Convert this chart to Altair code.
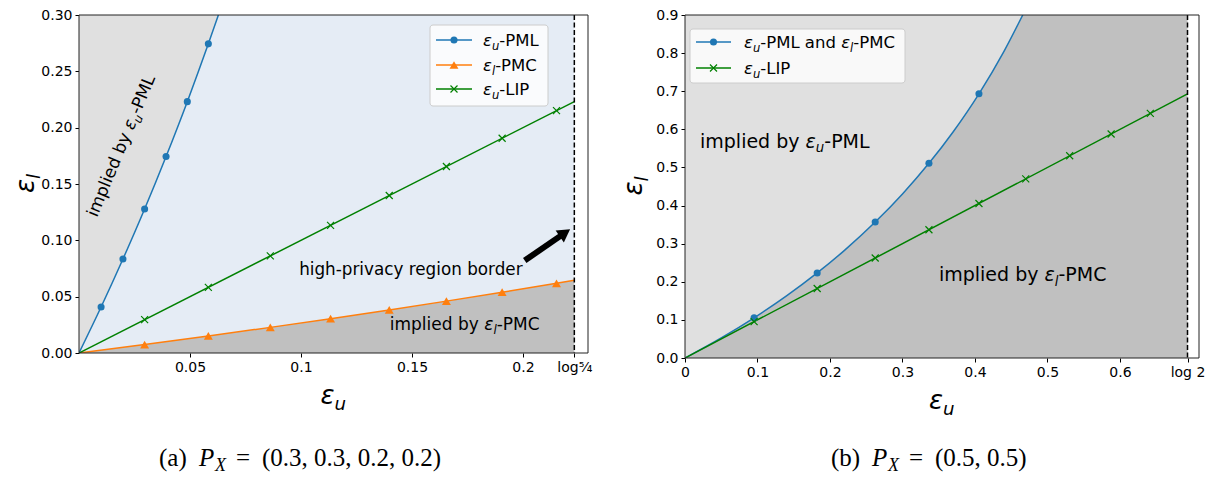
import altair as alt
import pandas as pd

LOG54 = 0.22314
LOG2 = 0.69315
XMAX_A, YMAX_A = 0.2293, 0.30
XMAX_B, YMAX_B = 0.7090, 0.90
W_A, H_A = 509, 338
W_B, H_B = 514, 343

BLUE, ORANGE, GREEN = "#1f77b4", "#ff7f0e", "#008000"
LIGHTGRAY, GRAY, LIGHTBLUE = "#e0e0e0", "#c0c0c0", "#e5ecf5"
FONT = "DejaVu Sans"
SERIF = "Liberation Serif"

# ---------------- data: panel (a) ----------------
SERIES_A = ["εu-PML", "εl-PMC", "εu-LIP"]
a_pml_x = [0.0, 0.00995, 0.01980, 0.02956, 0.03922, 0.04879, 0.05827, 0.06280]
a_pml_y = [0.0, 0.0408, 0.0834, 0.1278, 0.1744, 0.2231, 0.2744, 0.3000]
a_pml_mx = [0.00995, 0.01980, 0.02956, 0.03922, 0.04879, 0.05827]
a_pml_my = [0.0408, 0.0834, 0.1278, 0.1744, 0.2231, 0.2744]

a_pmc_x = [0.0, 0.02956, 0.05827, 0.08618, 0.11333, 0.13976, 0.16551, 0.19062, 0.21511, 0.22314]
a_pmc_y = [0.0, 0.00753, 0.01511, 0.02275, 0.03046, 0.03822, 0.04604, 0.05393, 0.06188, 0.06454]
a_pmc_mx = [0.02956, 0.05827, 0.08618, 0.11333, 0.13976, 0.16551, 0.19062, 0.21511]
a_pmc_my = [0.00753, 0.01511, 0.02275, 0.03046, 0.03822, 0.04604, 0.05393, 0.06188]

a_lip_x = [0.0, 0.22314]
a_lip_y = [0.0, 0.22314]
a_lip_mx = [0.02956, 0.05827, 0.08618, 0.11333, 0.13976, 0.16551, 0.19062, 0.21511]
a_lip_my = [0.02956, 0.05827, 0.08618, 0.11333, 0.13976, 0.16551, 0.19062, 0.21511]

# ---------------- data: panel (b) ----------------
SERIES_B = ["εu-PML and εl-PMC", "εu-LIP"]
b_pml_x = [0.0, 0.05, 0.09531, 0.14, 0.18232, 0.22, 0.26236, 0.30, 0.33647, 0.37, 0.40547, 0.44, 0.46590]
b_pml_y = [0.0, 0.05263, 0.10536, 0.16284, 0.22314, 0.28247, 0.35667, 0.43056, 0.51083, 0.59372, 0.69315, 0.80455, 0.90000]
b_pml_mx = [0.09531, 0.18232, 0.26236, 0.33647, 0.40547]
b_pml_my = [0.10536, 0.22314, 0.35667, 0.51083, 0.69315]

b_lip_x = [0.0, 0.69315]
b_lip_y = [0.0, 0.69315]
b_lip_mx = [0.09531, 0.18232, 0.26236, 0.33647, 0.40547, 0.47000, 0.53063, 0.58779, 0.64185]
b_lip_my = [0.09531, 0.18232, 0.26236, 0.33647, 0.40547, 0.47000, 0.53063, 0.58779, 0.64185]

XPATH = "M-1,-1L1,1M-1,1L1,-1"

# approximate DejaVu Sans advance widths (em) for pieces that precede other pieces
EM = {"implied by ": 5.556, "ε": 0.541, "u": 0.634, "l": 0.278, "-PML and ": 4.902}

# rich-text pieces: (text, kind) with kind n=normal, e=italic epsilon, s=subscript
RT_PML = [("implied by ", "n"), ("ε", "e"), ("u", "s"), ("-PML", "n")]
RT_PMC = [("implied by ", "n"), ("ε", "e"), ("l", "s"), ("-PMC", "n")]
LEG_LABELS_A = [[("ε", "e"), ("u", "s"), ("-PML", "n")],
                [("ε", "e"), ("l", "s"), ("-PMC", "n")],
                [("ε", "e"), ("u", "s"), ("-LIP", "n")]]
LEG_LABELS_B = [[("ε", "e"), ("u", "s"), ("-PML and ", "n"), ("ε", "e"), ("l", "s"), ("-PMC", "n")],
                [("ε", "e"), ("u", "s"), ("-LIP", "n")]]


def rich(pieces, size, x, y, angle=0, font=FONT):
    """Layers drawing a text made of pieces, laid out along the text direction."""
    out = []
    pos = 0.0
    sub = size * 0.7
    for t, kind in pieces:
        fs = sub if kind == "s" else size
        dy = size * 0.24 if kind == "s" else 0
        style = "italic" if kind in ("e", "s") else "normal"
        out.append(
            alt.Chart(pd.DataFrame({"t": [t]}))
            .mark_text(font=font, fontSize=fs, fontStyle=style, align="left", baseline="alphabetic",
                       angle=angle, dx=pos, dy=dy, color="black")
            .encode(x=x, y=y, text="t:N")
        )
        pos += EM.get(t, 0) * fs
    return out


def line_df(series):
    rows = []
    for name, xs, ys in series:
        for i, (x, y) in enumerate(zip(xs, ys)):
            rows.append({"x": x, "y": y, "s": name, "o": i})
    return pd.DataFrame(rows)


def build_panel(W, H, xmax, ymax, xaxis, yaxis, series, names, colors,
                marks, fills, xborder, texts, caption, legend_spec, titles, arrow=None):
    xs = alt.Scale(domain=[0, xmax], nice=False, zero=False)
    ys = alt.Scale(domain=[0, ymax], nice=False, zero=False)

    def X(f):
        return alt.X(f, type="quantitative", scale=xs, axis=xaxis)

    def Y(f):
        return alt.Y(f, type="quantitative", scale=ys, axis=yaxis)

    layers = []
    bg_color, over = fills
    layers.append(
        alt.Chart(pd.DataFrame({"x0": [0.0], "x1": [xborder], "y0": [0.0], "y1": [ymax]}))
        .mark_rect(color=bg_color).encode(x=X("x0"), x2="x1", y=Y("y0"), y2="y1")
    )
    for xs_, ys_, col, side in over:
        df = pd.DataFrame({"x": xs_, "y": ys_})
        y2 = alt.datum(ymax) if side == "above" else alt.datum(0)
        layers.append(
            alt.Chart(df).mark_area(color=col, interpolate="monotone", opacity=1, clip=True)
            .encode(x=X("x"), y=Y("y"), y2=y2)
        )
    ldf = line_df(series)
    layers.append(
        alt.Chart(ldf).mark_line(strokeWidth=1.5, interpolate="monotone", clip=True)
        .encode(x=X("x"), y=Y("y"), order="o:Q",
                color=alt.Color("s:N", scale=alt.Scale(domain=names, range=colors), legend=None))
    )
    for mx, my, col, shape, filled, size in marks:
        layers.append(
            alt.Chart(pd.DataFrame({"x": mx, "y": my}))
            .mark_point(shape=shape, filled=filled, size=size, color=col, opacity=1, strokeWidth=1.2)
            .encode(x=X("x"), y=Y("y"))
        )
    layers.append(
        alt.Chart(pd.DataFrame({"x": [xborder]}))
        .mark_rule(strokeDash=[5, 2.5], strokeWidth=1.5, color="black")
        .encode(x=X("x"))
    )
    # annotations
    for pieces, tx, ty, ang, fs, mode in texts:
        if mode == "center":
            layers.append(
                alt.Chart(pd.DataFrame({"x": [tx], "y": [ty], "t": [pieces]}))
                .mark_text(font=FONT, fontSize=fs, angle=ang, align="center", baseline="middle",
                           color="black")
                .encode(x=X("x"), y=Y("y"), text="t:N")
            )
        else:
            layers += rich(pieces, fs, alt.X(datum=tx, scale=xs, axis=xaxis),
                           alt.Y(datum=ty, scale=ys, axis=yaxis), angle=ang)
    if arrow is not None:
        (x0, y0, x1, y1, ang) = arrow
        layers.append(
            alt.Chart(pd.DataFrame({"x": [x0], "y": [y0], "x2": [x1], "y2": [y1]}))
            .mark_rule(strokeWidth=6, color="black")
            .encode(x=X("x"), y=Y("y"), x2="x2", y2="y2")
        )
        layers.append(
            alt.Chart(pd.DataFrame({"x": [x1], "y": [y1]}))
            .mark_point(shape="triangle-up", filled=True, size=210, angle=ang, color="black", opacity=1)
            .encode(x=X("x"), y=Y("y"))
        )
    # frame
    layers.append(
        alt.Chart(pd.DataFrame({"a": [0]}))
        .mark_rect(filled=False, stroke="#222222", strokeWidth=1)
        .encode(x=alt.value(0), x2=alt.value(W), y=alt.value(0), y2=alt.value(H))
    )
    # legend (drawn by hand: box, line + marker handles, labels)
    (bx0, by0, bx1, by1), rows_y, (lx0, lx1), label_x, labels, leg_marks = legend_spec
    layers.append(
        alt.Chart(pd.DataFrame({"a": [0]}))
        .mark_rect(fill="white", fillOpacity=0.8, stroke="#cccccc", strokeWidth=1, cornerRadius=3)
        .encode(x=alt.value(bx0), x2=alt.value(bx1), y=alt.value(by0), y2=alt.value(by1))
    )
    for ry, lab, col, (shape, filled, size) in zip(rows_y, labels, colors, leg_marks):
        layers.append(
            alt.Chart(pd.DataFrame({"a": [0]}))
            .mark_rule(color=col, strokeWidth=1.5)
            .encode(x=alt.value(lx0), x2=alt.value(lx1), y=alt.value(ry))
        )
        layers.append(
            alt.Chart(pd.DataFrame({"a": [0]}))
            .mark_point(shape=shape, filled=filled, size=size, color=col, opacity=1, strokeWidth=1.2)
            .encode(x=alt.value((lx0 + lx1) / 2), y=alt.value(ry))
        )
        layers += rich(lab, 16.5, alt.value(label_x), alt.value(ry + 6))
    # axis titles (epsilon with subscript)
    (xt_x, xt_y, xsub), (yt_x, yt_y, ysub) = titles
    layers += rich([("ε", "e"), (xsub, "s")], 26, alt.value(xt_x), alt.value(xt_y))
    layers += rich([("ε", "e"), (ysub, "s")], 26, alt.value(yt_x), alt.value(yt_y), angle=270)
    # caption
    for t, px, py, fs, style in caption:
        layers.append(
            alt.Chart(pd.DataFrame({"t": [t]}))
            .mark_text(font=SERIF, fontSize=fs, fontStyle=style, align="left", baseline="alphabetic",
                       color="black")
            .encode(x=alt.value(px), y=alt.value(py), text="t:N")
        )
    return alt.layer(*layers).properties(width=W, height=H)


axis_common = dict(grid=False, domain=False, labelFlush=False, labelOverlap=False, title=None)

xaxis_a = alt.Axis(values=[0.05, 0.1, 0.15, 0.2, LOG54],
                   labelExpr="datum.value > 0.22 ? 'log⁵⁄₄' : format(datum.value, '~g')", **axis_common)
yaxis_a = alt.Axis(values=[0, 0.05, 0.1, 0.15, 0.2, 0.25, 0.3], format=".2f", **axis_common)
xaxis_b = alt.Axis(values=[0, 0.1, 0.2, 0.3, 0.4, 0.5, 0.6, LOG2],
                   labelExpr="datum.value > 0.65 ? 'log 2' : format(datum.value, '~g')", **axis_common)
yaxis_b = alt.Axis(values=[0, 0.1, 0.2, 0.3, 0.4, 0.5, 0.6, 0.7, 0.8, 0.9], format=".1f", **axis_common)

CAP_Y = 451
panel_a = build_panel(
    W_A, H_A, XMAX_A, YMAX_A, xaxis_a, yaxis_a,
    series=[(SERIES_A[0], a_pml_x, a_pml_y), (SERIES_A[1], a_pmc_x, a_pmc_y), (SERIES_A[2], a_lip_x, a_lip_y)],
    names=SERIES_A, colors=[BLUE, ORANGE, GREEN],
    marks=[(a_pml_mx, a_pml_my, BLUE, "circle", True, 50),
           (a_pmc_mx, a_pmc_my, ORANGE, "triangle-up", True, 80),
           (a_lip_mx, a_lip_my, GREEN, XPATH, False, 49)],
    fills=(LIGHTBLUE, [(a_pml_x, a_pml_y, LIGHTGRAY, "above"), (a_pmc_x, a_pmc_y, GRAY, "below")]),
    xborder=LOG54,
    texts=[(RT_PML, 0.0081, 0.1198, 292.6, 17, "rich"),
           ("high-privacy region border", 0.1495, 0.0735, 0, 16.8, "center"),
           (RT_PMC, 0.140, 0.0201, 0, 17, "rich")],
    caption=[("(a)", 80, CAP_Y, 25, "normal"), ("P", 120, CAP_Y, 25, "italic"),
             ("X", 136, CAP_Y + 5, 18, "italic"), ("=", 157, CAP_Y, 25, "normal"),
             ("(0.3, 0.3, 0.2, 0.2)", 183, CAP_Y, 25, "normal")],
    legend_spec=((351, 10, 469, 91), [25, 50, 74], (357, 393), 404, LEG_LABELS_A,
                 [("circle", True, 50), ("triangle-up", True, 80), (XPATH, False, 49)]),
    titles=((W_A / 2 - 13, H_A + 51, "u"), (-45, H_A / 2 + 9, "l")),
    arrow=(0.2008, 0.0821, 0.2189, 0.1066, 55.5),
)

panel_b = build_panel(
    W_B, H_B, XMAX_B, YMAX_B, xaxis_b, yaxis_b,
    series=[(SERIES_B[0], b_pml_x, b_pml_y), (SERIES_B[1], b_lip_x, b_lip_y)],
    names=SERIES_B, colors=[BLUE, GREEN],
    marks=[(b_pml_mx, b_pml_my, BLUE, "circle", True, 50),
           (b_lip_mx, b_lip_my, GREEN, XPATH, False, 49)],
    fills=(GRAY, [(b_pml_x, b_pml_y, LIGHTGRAY, "above")]),
    xborder=LOG2,
    texts=[(RT_PML, 0.0207, 0.5518, 0, 19, "rich"),
           (RT_PMC, 0.3503, 0.2020, 0, 19, "rich")],
    caption=[("(b)", 146, CAP_Y, 25, "normal"), ("P", 187, CAP_Y, 25, "italic"),
             ("X", 203, CAP_Y + 5, 18, "italic"), ("=", 224, CAP_Y, 25, "normal"),
             ("(0.5, 0.5)", 250, CAP_Y, 25, "normal")],
    legend_spec=((5, 14, 220, 68), [27, 53], (11, 46), 59, LEG_LABELS_B,
                 [("circle", True, 50), (XPATH, False, 49)]),
    titles=((W_B / 2 - 13, H_B + 51, "u"), (-43, H_B / 2 + 9, "l")),
)

chart = (
    alt.hconcat(panel_a, panel_b, spacing=29)
    .resolve_scale(color="independent")
    .properties(padding={"left": 5, "top": 0, "right": 0, "bottom": 0}, background="white")
    .configure_view(stroke=None)
    .configure_axis(labelFont=FONT, labelFontSize=14, labelColor="black", tickColor="black",
                    tickSize=4, tickWidth=1, labelPadding=3)
)

chart.save("out.html", embed_options={"renderer": "svg", "actions": False})
